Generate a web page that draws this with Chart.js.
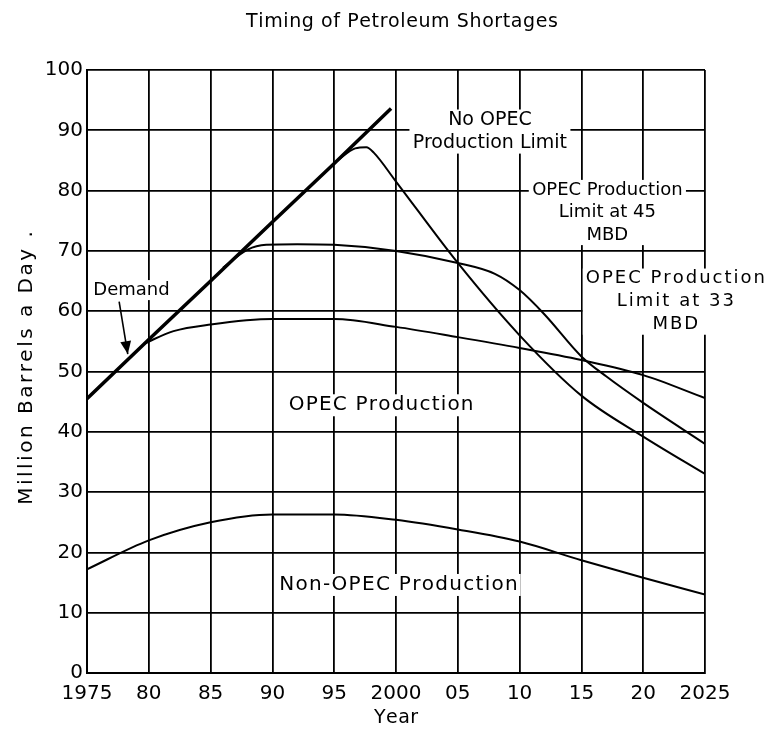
<!DOCTYPE html>
<html>
<head>
<meta charset="utf-8">
<script src="https://cdn.jsdelivr.net/npm/chart.js@4.4.1/dist/chart.umd.min.js"></script>
<style>
  body { margin: 0; background: #fff; }
  #wrap { width: 770px; height: 738px; }
</style>
</head>
<body>
<div id="wrap"><canvas id="chart" width="770" height="738"></canvas></div>
<script>
const xTickLabels = ["1975", "80", "85", "90", "95", "2000", "05", "10", "15", "20", "2025"];

const demandYears = [1975, 1980, 1985, 1990, 1995, 1999.6];
const demandValues = [45.5, 55.3, 65, 74.8, 84.5, 93.6];

const noLimitYears = [1995.2, 1996.7, 1997.6, 1998.2, 2000, 2005, 2010, 2015, 2020, 2025];
const noLimitValues = [84.9, 87, 87.2, 86.3, 81.5, 68, 56, 46, 39.2, 33];

const limit45Years = [1986, 1988, 1989.5, 1992, 1995, 2000, 2005, 2008, 2010, 2012, 2015, 2017, 2020, 2025];
const limit45Values = [67.2, 70.2, 71, 71.1, 71, 70, 68, 66.2, 63.5, 59.5, 52.5, 49.2, 44.8, 38];

const limit33Years = [1979.6, 1982, 1985, 1990, 1995, 2000, 2005, 2010, 2015, 2020, 2025];
const limit33Values = [54.6, 56.7, 57.8, 58.7, 58.7, 57.4, 55.7, 53.9, 51.9, 49.4, 45.6];

const nonOpecYears = [1975, 1980, 1985, 1990, 1995, 2000, 2005, 2010, 2015, 2020, 2025];
const nonOpecValues = [17.2, 22, 25, 26.3, 26.3, 25.4, 23.8, 21.8, 18.7, 15.8, 13];

const FONT = "'DejaVu Sans', sans-serif";

// label anchors in data units (first line centre), line gap in px
const notes = [
  { lines: ["No OPEC", "Production Limit"], year: 2007.6, value: 91.7, size: 19, gap: 23, spacing: 0 },
  { lines: ["OPEC Production", "Limit at 45", "MBD"], year: 2017.1, value: 80.1, size: 18, gap: 22.5, spacing: 0 },
  { lines: ["OPEC Production", "Limit at 33", "MBD"], year: 2022.6, value: 65.4, size: 18, gap: 23, spacing: 2 },
  { lines: ["OPEC Production"], year: 1998.8, value: 44.4, size: 20, gap: 0, spacing: 1.2 },
  { lines: ["Non-OPEC Production"], year: 2000.2, value: 14.6, size: 20, gap: 0, spacing: 1.3 },
];

function pts(xs, ys) {
  return xs.map((x, i) => ({ x, y: ys[i] }));
}

function line(label, xs, ys, width, smooth) {
  return {
    label,
    data: pts(xs, ys),
    borderColor: "#000",
    borderWidth: width,
    pointRadius: 0,
    fill: false,
    cubicInterpolationMode: smooth ? "monotone" : "default",
    tension: 0,
  };
}

// width of a string with extra space between letters
function spacedWidth(ctx, str, spacing) {
  let w = 0;
  for (const ch of str) w += ctx.measureText(ch).width;
  return w + spacing * (str.length - 1);
}

function text(ctx, str, x, y, size, spacing, rot) {
  ctx.save();
  ctx.font = `${size}px ${FONT}`;
  ctx.textBaseline = "middle";
  ctx.fillStyle = "#000";
  ctx.translate(x, y);
  if (rot) ctx.rotate(rot);
  if (!spacing) {
    ctx.textAlign = "center";
    ctx.fillText(str, 0, 0);
  } else {
    ctx.textAlign = "left";
    let px = -spacedWidth(ctx, str, spacing) / 2;
    for (const ch of str) {
      ctx.fillText(ch, px, 0);
      px += ctx.measureText(ch).width + spacing;
    }
  }
  ctx.restore();
}

const notesPlugin = {
  id: "notes",
  beforeDatasetsDraw(chart) {
    const { ctx, scales } = chart;
    ctx.save();
    for (const n of notes) {
      ctx.font = `${n.size}px ${FONT}`;
      const cx = scales.x.getPixelForValue(n.year);
      const cy = scales.y.getPixelForValue(n.value);
      const w = Math.max(...n.lines.map((t) => spacedWidth(ctx, t, n.spacing)));
      const h = n.size * 0.9;
      ctx.fillStyle = "#fff";
      ctx.fillRect(cx - w / 2 - 3, cy - h / 2 - 2, w + 6, n.gap * (n.lines.length - 1) + h + 4);
      n.lines.forEach((t, i) => text(ctx, t, cx, cy + i * n.gap, n.size, n.spacing));
    }
    // Demand label with arrow
    ctx.font = `18px ${FONT}`;
    const dx = scales.x.getPixelForValue(1978.6);
    const dy = scales.y.getPixelForValue(63.5);
    const tw = ctx.measureText("Demand").width;
    ctx.fillStyle = "#fff";
    ctx.fillRect(dx - tw / 2 - 2, dy - 10, tw + 4, 20);
    text(ctx, "Demand", dx, dy, 18, 0);
    const ax = scales.x.getPixelForValue(1977.6), ay = scales.y.getPixelForValue(61.6);
    const bx = scales.x.getPixelForValue(1978.3), by = scales.y.getPixelForValue(52.9);
    ctx.strokeStyle = "#000";
    ctx.fillStyle = "#000";
    ctx.lineWidth = 1.6;
    ctx.beginPath();
    ctx.moveTo(ax, ay);
    ctx.lineTo(bx, by);
    ctx.stroke();
    const ang = Math.atan2(by - ay, bx - ax);
    ctx.beginPath();
    ctx.moveTo(bx, by);
    ctx.lineTo(bx - 14 * Math.cos(ang - 0.4), by - 14 * Math.sin(ang - 0.4));
    ctx.lineTo(bx - 14 * Math.cos(ang + 0.4), by - 14 * Math.sin(ang + 0.4));
    ctx.closePath();
    ctx.fill();
    ctx.restore();
  },
  afterDraw(chart) {
    const { ctx } = chart;
    text(ctx, "Timing of Petroleum Shortages", 402, 22, 19, 0.6);
    text(ctx, "Year", 396, 718, 19, 0.5);
    text(ctx, "Million Barrels a Day .", 27, 368, 20, 2.5, -Math.PI / 2);
  },
};

new Chart(document.getElementById("chart"), {
  type: "line",
  data: {
    datasets: [
      line("Demand", demandYears, demandValues, 3.5, false),
      line("No OPEC Production Limit", noLimitYears, noLimitValues, 2, true),
      line("OPEC Production Limit at 45 MBD", limit45Years, limit45Values, 2, true),
      line("OPEC Production Limit at 33 MBD", limit33Years, limit33Values, 2, true),
      line("Non-OPEC Production", nonOpecYears, nonOpecValues, 2, true),
    ],
  },
  options: {
    responsive: false,
    animation: false,
    layout: { padding: { left: 16, right: 65, top: 70, bottom: 8 } },
    plugins: {
      legend: { display: false },
      tooltip: { enabled: false },
      title: { display: false },
    },
    scales: {
      x: {
        type: "linear",
        min: 1975,
        max: 2025,
        afterFit: (s) => { s.height = 57; },
        ticks: {
          stepSize: 5,
          color: "#000",
          padding: 9,
          maxRotation: 0,
          font: { family: FONT, size: 20 },
          callback: (v) => xTickLabels[Math.round((v - 1975) / 5)],
        },
        grid: { color: "#000", lineWidth: 1.8, drawTicks: false },
        border: { color: "#000", width: 2 },
      },
      y: {
        min: 0,
        max: 100,
        afterFit: (s) => { s.width = 71; },
        ticks: {
          stepSize: 10,
          color: "#000",
          padding: 4,
          font: { family: FONT, size: 20 },
        },
        grid: { color: "#000", lineWidth: 1.8, drawTicks: false },
        border: { color: "#000", width: 2 },
      },
    },
  },
  plugins: [notesPlugin],
});
</script>
</body>
</html>
